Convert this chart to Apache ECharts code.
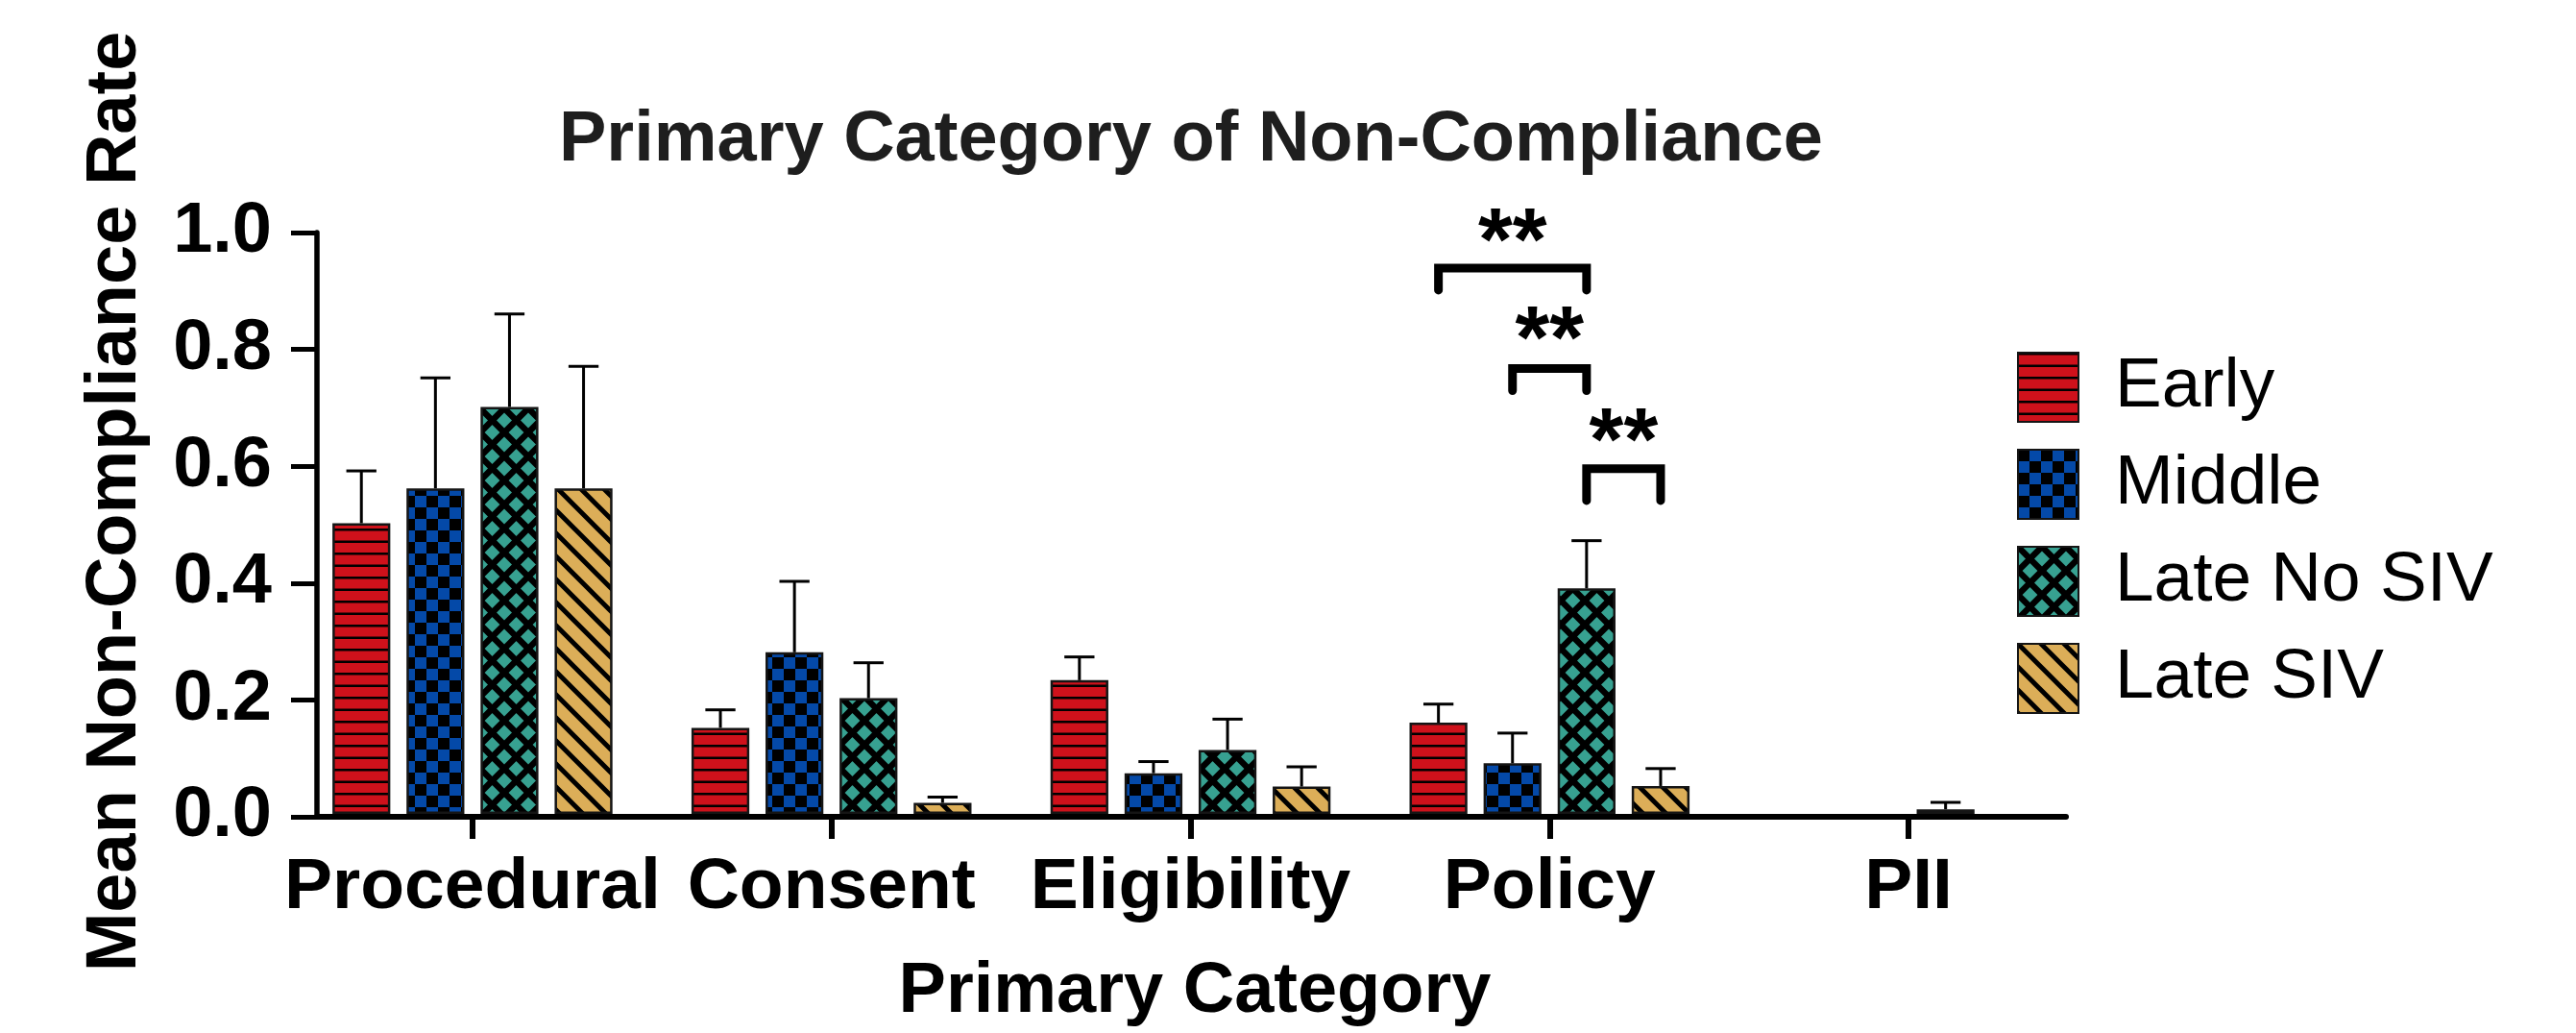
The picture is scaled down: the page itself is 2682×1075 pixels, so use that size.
<!DOCTYPE html>
<html><head><meta charset="utf-8">
<script src="https://cdn.jsdelivr.net/npm/echarts@6/dist/echarts.min.js"></script>
<style>html,body{margin:0;padding:0;background:#fff}#c{width:2682px;height:1075px}</style>
</head><body><div id="c"></div>
<script>
// ---------- data ----------
const categories = ['Procedural', 'Consent', 'Eligibility', 'Policy', 'PII'];
const groups = ['Early', 'Middle', 'Late No SIV', 'Late SIV'];
const earlyMean    = [0.50, 0.148, 0.23, 0.157, 0];
const earlyUpper   = [0.59, 0.179, 0.27, 0.189, null];
const middleMean   = [0.56, 0.278, 0.07, 0.087, 0];
const middleUpper  = [0.75, 0.40, 0.09, 0.139, null];
const lateNoMean   = [0.70, 0.199, 0.11, 0.388, 0.008];
const lateNoUpper  = [0.86, 0.26, 0.163, 0.47, 0.02];
const lateSivMean  = [0.56, 0.019, 0.047, 0.048, 0];
const lateSivUpper = [0.77, 0.029, 0.081, 0.078, null];
const yTickLabels = ['0.0', '0.2', '0.4', '0.6', '0.8', '1.0'];
// significance brackets (values in data units)
const sigCategory = ['Policy', 'Policy', 'Policy'];
const sigFrom = ['Early', 'Middle', 'Late No SIV'];
const sigTo = ['Late No SIV', 'Late No SIV', 'Late SIV'];
const sigBar = [0.939, 0.766, 0.594];
const sigLegEnd = [0.901, 0.728, 0.539];
const sigStarY = [1.007, 0.839, 0.663];
const sigText = ['**', '**', '**'];

// ---------- styles ----------
const FONT = '"Liberation Sans", Arial, Helvetica, sans-serif';
const BAR_GAP = '28%';
const CAT_GAP = '22%';

function tile(size, draw) {
  const c = document.createElement('canvas');
  c.width = size; c.height = size;
  draw(c.getContext('2d'), size);
  return { image: c, repeat: 'repeat' };
}
const patEarly = tile(25, (g, s) => {
  g.fillStyle = '#cf111b'; g.fillRect(0, 0, s, s);
  g.fillStyle = '#000'; g.fillRect(0, 0, s, 2.5); g.fillRect(0, 12.5, s, 2.5);
});
const patMiddle = tile(24, (g, s) => {
  g.fillStyle = '#0449a8'; g.fillRect(0, 0, s, s);
  g.fillStyle = '#000'; g.fillRect(0, 0, 12, 12); g.fillRect(12, 12, 12, 12);
});
const patLateNo = tile(25, (g, s) => {
  g.fillStyle = '#37a191'; g.fillRect(0, 0, s, s);
  g.strokeStyle = '#000'; g.lineWidth = 6.5;
  g.beginPath();
  for (let k = -1; k <= 2; k++) {
    g.moveTo(-10, -10 + s * k); g.lineTo(s + 10, s + 10 + s * k);
    g.moveTo(-10, s * k + 10); g.lineTo(s + 10, s * k - s - 10);
  }
  g.stroke();
});
const patLateSiv = tile(24, (g, s) => {
  g.fillStyle = '#dcae58'; g.fillRect(0, 0, s, s);
  g.strokeStyle = '#000'; g.lineWidth = 5;
  g.beginPath();
  for (let k = -1; k <= 1; k++) { g.moveTo(-10, -10 + s * k); g.lineTo(s + 10, s + 10 + s * k); }
  g.stroke();
});
const patterns = [patEarly, patMiddle, patLateNo, patLateSiv];
const means = [earlyMean, middleMean, lateNoMean, lateSivMean];
const uppers = [earlyUpper, middleUpper, lateNoUpper, lateSivUpper];

function barOffsets(api) {
  const n = groups.length;
  if (api.barLayout) {
    const l = api.barLayout({ barGap: BAR_GAP, barCategoryGap: CAT_GAP, count: n });
    if (l && l.length === n) return l.map(d => ({ c: d.offsetCenter, w: d.width }));
  }
  const band = api.size([1, 0])[0];
  const g = parseFloat(CAT_GAP) / 100, bg = parseFloat(BAR_GAP) / 100;
  const w = band * (1 - g) / (n + (n - 1) * bg);
  const start = -band * (1 - g) / 2;
  const out = [];
  for (let i = 0; i < n; i++) out.push({ c: start + w / 2 + i * w * (1 + bg), w: w });
  return out;
}

const barSeries = groups.map((name, gi) => ({
  name: name, type: 'bar', xAxisIndex: 0, yAxisIndex: 0,
  data: means[gi].map(v => v === 0 ? { value: v, itemStyle: { borderWidth: 0 } } : v),
  barGap: BAR_GAP, barCategoryGap: CAT_GAP,
  itemStyle: { color: patterns[gi], borderColor: '#151515', borderWidth: 2.5 },
  z: 2
}));

const errSeries = groups.map((name, gi) => ({
  name: 'err ' + name, type: 'custom', xAxisIndex: 0, yAxisIndex: 0, z: 3,
  data: categories.map((c, ci) => uppers[gi][ci] == null ? null : [ci, means[gi][ci], uppers[gi][ci]]).filter(d => d),
  renderItem: function (params, api) {
    const ci = api.value(0);
    const lo = api.coord([ci, api.value(1)]);
    const hi = api.coord([ci, api.value(2)]);
    const off = barOffsets(api)[gi];
    const x = lo[0] + off.c;
    const half = off.w * 0.26;
    const st = { stroke: '#000', lineWidth: 3 };
    return { type: 'group', children: [
      { type: 'line', shape: { x1: x, y1: lo[1], x2: x, y2: hi[1] }, style: st },
      { type: 'line', shape: { x1: x - half, y1: hi[1], x2: x + half, y2: hi[1] }, style: st }
    ] };
  }
}));

const sigSeries = {
  name: 'significance', type: 'custom', xAxisIndex: 0, yAxisIndex: 0, z: 4,
  data: sigCategory.map((c, i) => [categories.indexOf(c), groups.indexOf(sigFrom[i]), groups.indexOf(sigTo[i]), sigBar[i], sigLegEnd[i], sigStarY[i], i]),
  renderItem: function (params, api) {
    const ci = api.value(0);
    const offs = barOffsets(api);
    const top = api.coord([ci, api.value(3)]);
    const legY = api.coord([ci, api.value(4)])[1];
    const starY = api.coord([ci, api.value(5)])[1];
    const x1 = top[0] + offs[api.value(1)].c;
    const x2 = top[0] + offs[api.value(2)].c;
    return { type: 'group', children: [
      { type: 'polyline', shape: { points: [[x1, legY], [x1, top[1]], [x2, top[1]], [x2, legY]] },
        style: { stroke: '#000', lineWidth: 9, fill: null, lineCap: 'round', lineJoin: 'miter' } },
      { type: 'text', x: (x1 + x2) / 2, y: starY + 18,
        style: { text: sigText[api.value(6)], fontSize: 92, fontWeight: 'bold', fontFamily: FONT,
                 fill: '#000', align: 'center', verticalAlign: 'middle' } }
    ] };
  }
};

const chart = echarts.init(document.getElementById('c'), null, { renderer: 'canvas' });
chart.setOption({
  animation: false,
  backgroundColor: '#fff',
  title: {
    text: 'Primary Category of Non-Compliance', left: 582, top: 110, padding: 0,
    textStyle: { fontSize: 74, fontWeight: 'bold', fontFamily: FONT, color: '#1e1e1e' }
  },
  legend: {
    data: groups, orient: 'vertical', left: 2100, top: 366, padding: 0,
    itemWidth: 63, itemHeight: 72, itemGap: 27, icon: 'rect',
    selectedMode: false,
    textStyle: { fontSize: 73, fontFamily: FONT, color: '#000', padding: [6, 0, 0, 33] }
  },
  grid: [
    { left: 305, top: 242, width: 1869, height: 608 },
    { left: 330, top: 242, width: 1821, height: 608 }
  ],
  xAxis: [
    { gridIndex: 0, type: 'category', data: categories,
      axisLine: { show: false },
      axisTick: { show: true, alignWithLabel: true, length: 26, lineStyle: { color: '#000', width: 6 } },
      axisLabel: { interval: 0, margin: 40, fontSize: 75, fontWeight: 'bold', fontFamily: FONT, color: '#000' },
      name: 'Primary Category', nameLocation: 'middle', nameGap: 149,
      nameTextStyle: { fontSize: 74, fontWeight: 'bold', fontFamily: FONT, color: '#000', padding: [0, 0, 0, 9] },
      splitLine: { show: false }
    },
    { gridIndex: 1, type: 'value', min: 0, max: 1, z: 10,
      axisLine: { show: true, lineStyle: { color: '#000', width: 6 } },
      axisTick: { show: false }, axisLabel: { show: false }, splitLine: { show: false }
    }
  ],
  yAxis: [
    { gridIndex: 0, type: 'value', min: 0, max: 1, show: false },
    { gridIndex: 1, type: 'value', min: 0, max: 1, interval: 0.2,
      axisLine: { show: true, lineStyle: { color: '#000', width: 5.5 } },
      axisTick: { show: true, length: 27, lineStyle: { color: '#000', width: 5 } },
      axisLabel: { margin: 47, fontSize: 74, fontWeight: 'bold', fontFamily: FONT, color: '#000',
                   formatter: (v) => yTickLabels[Math.round(v * 5)] },
      splitLine: { show: false },
      name: 'Mean Non-Compliance Rate', nameLocation: 'middle', nameGap: 172,
      nameTextStyle: { fontSize: 74, fontWeight: 'bold', fontFamily: FONT, color: '#000', padding: [0, 0, 0, 48] }
    }
  ],
  series: barSeries.concat(errSeries, [sigSeries])
});
</script></body></html>
